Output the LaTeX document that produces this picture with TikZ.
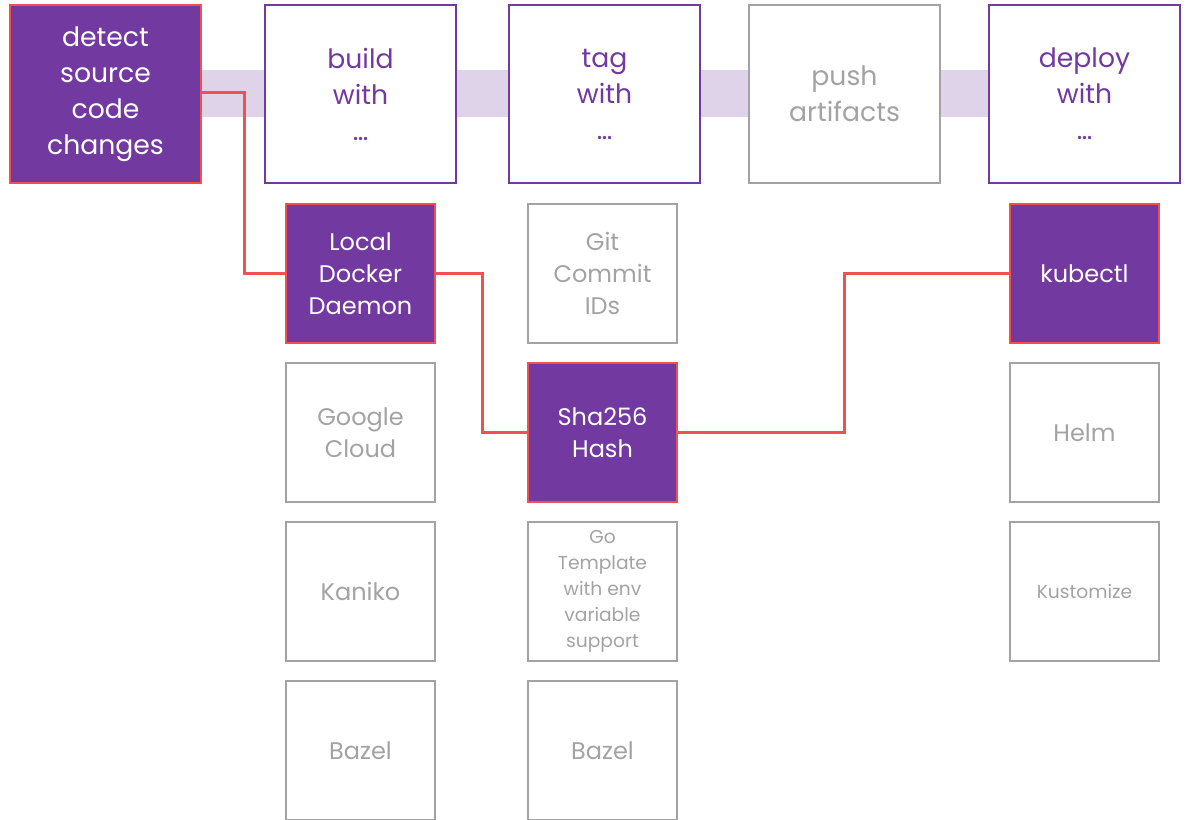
\documentclass[tikz,border=0pt]{standalone}
\usepackage{fontspec}
\setmainfont{Poppins}
\definecolor{plum}{HTML}{7239A0}
\definecolor{coral}{HTML}{F25050}
\definecolor{lilac}{HTML}{DED3E9}
\definecolor{ash}{HTML}{A3A3A3}
\tikzset{
  stage/.style={draw=plum, line width=1.5pt, fill=white, text=plum,
    minimum width=143.25pt, minimum height=133.5pt, inner sep=0pt,
    align=center, font=\fontsize{20}{27}\selectfont},
  stageoff/.style={stage, draw=ash, text=ash},
  stageon/.style={stage, draw=coral, fill=plum, text=white},
  tool/.style={draw=ash, line width=1.5pt, fill=white, text=ash,
    minimum width=111.75pt, minimum height=104.25pt, inner sep=0pt,
    align=center, font=\fontsize{18}{24}\selectfont},
  toolon/.style={tool, draw=coral, fill=plum, text=white},
  small/.style={font=\fontsize{14}{19.5}\selectfont},
  route/.style={draw=coral, line width=2.25pt}
}
\begin{document}
\begin{tikzpicture}[x=0.75pt, y=-0.75pt]
   \useasboundingbox (0,0) rectangle (1186,820);
   \clip (0,0) rectangle (1186,820);

   % band behind the stages
   \fill[lilac] (201,70) rectangle (989,117);

   % stages
   \node[stageon] (detect) at (105.5,94) {detect\\source\\code\\changes};
   \node[stage] (build) at (360.5,94) {build\\with\\…};
   \node[stage] (tag) at (604.5,94) {tag\\with\\…};
   \node[stageoff] (push) at (844.5,94) {push\\artifacts};
   \node[stage] (deploy) at (1084.5,94) {deploy\\with\\…};

   % build tools
   \node[toolon] (docker) at (360.5,273.5) {Local\\Docker\\Daemon};
   \node[tool] (gcloud) at (360.5,432.5) {Google\\Cloud};
   \node[tool] (kaniko) at (360.5,591.5) {Kaniko};
   \node[tool] (bazelb) at (360.5,750.5) {Bazel};

   % taggers
   \node[tool] (gitid) at (602.5,273.5) {Git\\Commit\\IDs};
   \node[toolon] (sha) at (602.5,432.5) {Sha256\\Hash};
   \node[tool, small] (gotmpl) at (602.5,591.5) {Go\\Template\\with env\\variable\\support};
   \node[tool] (bazelt) at (602.5,750.5) {Bazel};

   % deployers
   \node[toolon] (kubectl) at (1084.5,273.5) {kubectl};
   \node[tool] (helm) at (1084.5,432.5) {Helm};
   \node[tool, small] (kustomize) at (1084.5,591.5) {Kustomize};

   % chosen path
   \draw[route] (detect.east) ++(0,-1) -- ++(42,0) |- (docker.west);
   \draw[route] (docker.east) -- ++(46,0) |- (sha.west);
   \draw[route] (sha.east) -- ++(166,0) |- (kubectl.west);

\end{tikzpicture}
\end{document}
